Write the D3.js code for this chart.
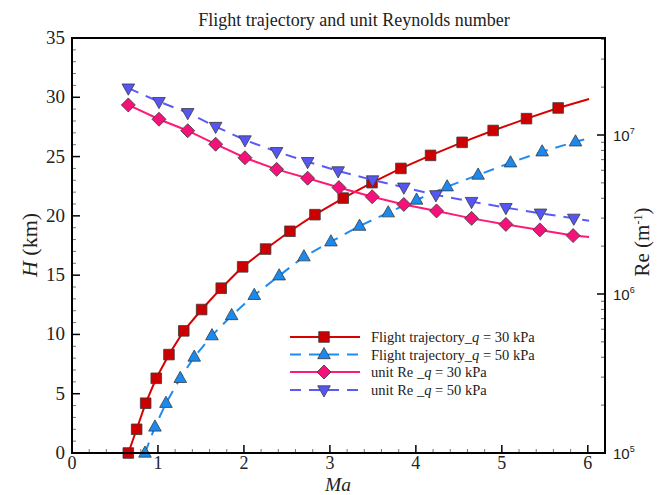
<!DOCTYPE html>
<html>
<head>
<meta charset="utf-8">
<script src="https://cdn.jsdelivr.net/npm/d3@7"></script>
<style>
  html, body { margin: 0; padding: 0; background: #fff; }
  svg { display: block; }
</style>
</head>
<body>
<svg id="chart" width="666" height="495"></svg>
<script>
// Flight trajectory H(Ma) for two dynamic pressures (left axis)
const trajMa30 = [0.655, 0.752, 0.857, 0.98, 1.128, 1.30, 1.508, 1.736, 1.985, 2.252, 2.535, 2.826, 3.155, 3.49, 3.826, 4.171, 4.538, 4.899, 5.287, 5.655, 6.015];
const trajH30  = [0.0, 2.0, 4.2, 6.3, 8.3, 10.3, 12.1, 13.9, 15.7, 17.2, 18.7, 20.1, 21.5, 22.8, 24.0, 25.1, 26.2, 27.2, 28.2, 29.1, 29.85];
const trajMa50 = [0.849, 0.965, 1.093, 1.259, 1.422, 1.628, 1.857, 2.12, 2.41, 2.698, 3.012, 3.345, 3.678, 4.008, 4.364, 4.724, 5.101, 5.469, 5.857, 6.04];
const trajH50  = [0.0, 2.2, 4.2, 6.3, 8.1, 9.9, 11.6, 13.3, 14.95, 16.56, 17.82, 19.14, 20.27, 21.34, 22.46, 23.45, 24.48, 25.41, 26.25, 26.6];

// Unit Reynolds number Re(Ma) in 1/m (right, logarithmic axis)
const reMa30 = [0.655, 1.012, 1.346, 1.671, 2.012, 2.380, 2.741, 3.105, 3.492, 3.860, 4.241, 4.648, 5.047, 5.442, 5.829, 6.015];
const re30   = [1.545e7, 1.256e7, 1.064e7, 8.75e6, 7.19e6, 6.08e6, 5.35e6, 4.67e6, 4.09e6, 3.66e6, 3.33e6, 2.99e6, 2.74e6, 2.53e6, 2.33e6, 2.28e6];
const reMa50 = [0.655, 1.012, 1.346, 1.671, 2.012, 2.380, 2.741, 3.096, 3.497, 3.860, 4.233, 4.648, 5.047, 5.450, 5.837, 6.015];
const re50   = [1.97e7, 1.62e7, 1.38e7, 1.13e7, 9.3e6, 7.85e6, 6.79e6, 5.94e6, 5.21e6, 4.69e6, 4.20e6, 3.81e6, 3.49e6, 3.22e6, 2.99e6, 2.89e6];

// Axis ticks and labels
const xTicks = [0, 1, 2, 3, 4, 5, 6];
const hTicks = [0, 5, 10, 15, 20, 25, 30, 35];
const reMajor = [1e5, 1e6, 1e7];
const reExponents = ["5", "6", "7"];

const title = "Flight trajectory and unit Reynolds number";
const legendLabels = [
  ["Flight trajectory_", "q", " = 30 kPa"],
  ["Flight trajectory_", "q", " = 50 kPa"],
  ["unit Re _", "q", " = 30 kPa"],
  ["unit Re _", "q", " = 50 kPa"]
];

const svg = d3.select("#chart");
const L = 72, R = 605, T = 38, B = 453;

const x = d3.scaleLinear().domain([0, 6.2]).range([L, R]);
const yH = d3.scaleLinear().domain([0, 35]).range([B, T]);
const yRe = d3.scaleLog().domain([1e5, Math.pow(10, 5 + (B - T) / 159)]).range([B, T]);

const serif = "'Liberation Serif', 'Times New Roman', serif";
const sans = "'Liberation Sans', Arial, sans-serif";

// Tick marks (pointing into the plot)
const g = svg.append("g");
const minorX = d3.range(0, 6.2001, 0.2).filter(v => Math.abs(v - Math.round(v)) > 1e-6);
g.selectAll(".mx").data(minorX).join("line")
  .attr("x1", d => x(d)).attr("x2", d => x(d)).attr("y1", B).attr("y2", B - 4)
  .attr("stroke", "#777").attr("stroke-width", 1);
g.selectAll(".Mx").data(xTicks).join("line")
  .attr("x1", d => x(d)).attr("x2", d => x(d)).attr("y1", B).attr("y2", B - 8)
  .attr("stroke", "#000").attr("stroke-width", 1.5);

const minorH = d3.range(0, 35.001, 1).filter(v => v % 5 !== 0);
g.selectAll(".my").data(minorH).join("line")
  .attr("x1", L).attr("x2", L + 4).attr("y1", d => yH(d)).attr("y2", d => yH(d))
  .attr("stroke", "#777").attr("stroke-width", 1);
g.selectAll(".My").data(hTicks).join("line")
  .attr("x1", L).attr("x2", L + 8).attr("y1", d => yH(d)).attr("y2", d => yH(d))
  .attr("stroke", "#000").attr("stroke-width", 1.5);

const reMinor = [];
[1e5, 1e6, 1e7].forEach(dec => { for (let k = 2; k <= 9; k++) { const v = k * dec; if (v < yRe.domain()[1]) reMinor.push(v); } });
g.selectAll(".mr").data(reMinor).join("line")
  .attr("x1", R).attr("x2", R - 4).attr("y1", d => yRe(d)).attr("y2", d => yRe(d))
  .attr("stroke", "#666").attr("stroke-width", 1);
g.selectAll(".Mr").data(reMajor.slice(1)).join("line")
  .attr("x1", R).attr("x2", R - 8).attr("y1", d => yRe(d)).attr("y2", d => yRe(d))
  .attr("stroke", "#000").attr("stroke-width", 1.5);

// Tick labels
g.selectAll(".lx").data(xTicks).join("text")
  .attr("x", d => x(d)).attr("y", B + 16)
  .attr("text-anchor", "middle").attr("font-family", serif).attr("font-size", 18)
  .attr("fill", "#222").text(d => d);
g.selectAll(".ly").data(hTicks).join("text")
  .attr("x", L - 7).attr("y", d => yH(d) + 6)
  .attr("text-anchor", "end").attr("font-family", serif).attr("font-size", 19)
  .attr("fill", "#222").text(d => d);
const rl = g.selectAll(".lr").data(reMajor).join("text")
  .attr("x", R + 8).attr("y", d => yRe(d) + 6)
  .attr("font-family", sans).attr("font-size", 15).attr("fill", "#222");
rl.append("tspan").text("10");
rl.append("tspan").attr("dy", -7).attr("font-size", 9).text((d, i) => reExponents[i]);

// Series definitions
const series = [
  { xs: trajMa30, ys: trajH30, scale: yH, line: "#d90000", fill: "#cc0000", dash: null, shape: "square" },
  { xs: trajMa50, ys: trajH50, scale: yH, line: "#1f8cf0", fill: "#1a8af0", dash: "11,8", shape: "up" },
  { xs: reMa30, ys: re30, scale: yRe, line: "#ff1a75", fill: "#f5117a", dash: null, shape: "diamond" },
  { xs: reMa50, ys: re50, scale: yRe, line: "#5a5af5", fill: "#5656f2", dash: "11,8", shape: "down" }
];

function markerPath(shape) {
  if (shape === "square") return "M-5.3,-5.3H5.3V5.3H-5.3Z";
  if (shape === "diamond") return "M0,-7L7,0L0,7L-7,0Z";
  if (shape === "up") return "M0,-7L6.3,4.2H-6.3Z";
  return "M0,7L6.3,-4.2H-6.3Z";
}

const plot = svg.append("g");
series.forEach(s => {
  const pts = s.xs.map((v, i) => [x(v), s.scale(s.ys[i])]);
  plot.append("path")
    .attr("d", d3.line()(pts))
    .attr("fill", "none").attr("stroke", s.line).attr("stroke-width", 2)
    .attr("stroke-dasharray", s.dash);
  // markers on every sample except the closing end point at Ma ≈ 6
  plot.selectAll(null).data(pts.slice(0, -1)).join("path")
    .attr("transform", d => `translate(${d[0]},${d[1]})`)
    .attr("d", markerPath(s.shape))
    .attr("fill", s.fill).attr("stroke", "#3a3a3a").attr("stroke-width", 0.8);
});

// Plot frame
svg.append("rect").attr("x", L).attr("y", T).attr("width", R - L).attr("height", B - T)
  .attr("fill", "none").attr("stroke", "#000").attr("stroke-width", 2);

// Legend
const lg = svg.append("g");
const rowY = [337, 354.5, 372, 390];
series.forEach((s, i) => {
  lg.append("line").attr("x1", 290).attr("x2", 360).attr("y1", rowY[i]).attr("y2", rowY[i])
    .attr("stroke", s.line).attr("stroke-width", 2).attr("stroke-dasharray", s.dash);
  lg.append("path").attr("transform", `translate(324,${rowY[i]})`).attr("d", markerPath(s.shape))
    .attr("fill", s.fill).attr("stroke", "#3a3a3a").attr("stroke-width", 0.8);
  const t = lg.append("text").attr("x", 371).attr("y", rowY[i] + 5)
    .attr("font-family", serif).attr("font-size", 14.5).attr("fill", "#222");
  t.append("tspan").text(legendLabels[i][0]);
  t.append("tspan").attr("font-style", "italic").text(legendLabels[i][1]);
  t.append("tspan").text(legendLabels[i][2]);
});

// Titles
svg.append("text").attr("x", 354).attr("y", 26).attr("text-anchor", "middle")
  .attr("font-family", serif).attr("font-size", 18).attr("fill", "#222").text(title);
svg.append("text").attr("x", 338).attr("y", 490.5).attr("text-anchor", "middle")
  .attr("font-family", serif).attr("font-size", 19.5).attr("font-style", "italic").attr("fill", "#222").text("Ma");
const hl = svg.append("text").attr("transform", "translate(37,245) rotate(-90)").attr("text-anchor", "middle")
  .attr("font-family", serif).attr("font-size", 22).attr("fill", "#222");
hl.append("tspan").attr("font-style", "italic").text("H");
hl.append("tspan").text(" (km)");
const rlab = svg.append("text").attr("transform", "translate(649,242) rotate(-90)").attr("text-anchor", "middle")
  .attr("font-family", serif).attr("font-size", 21).attr("fill", "#222");
rlab.append("tspan").text("Re (m");
rlab.append("tspan").attr("dy", -7).attr("font-size", 12).text("-1");
rlab.append("tspan").attr("dy", 7).text(")");
</script>
</body>
</html>
